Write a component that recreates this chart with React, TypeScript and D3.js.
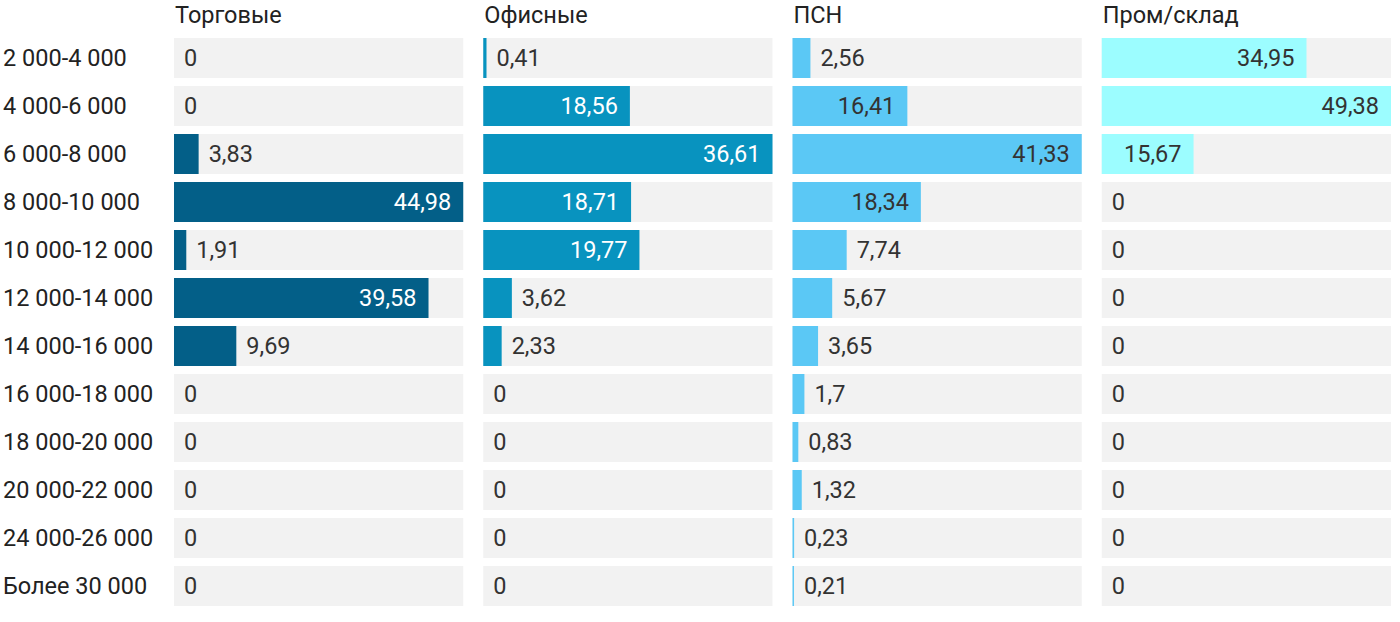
import { useEffect, useRef } from 'react';
import * as d3 from 'd3';

const categories = [
  '2 000-4 000', '4 000-6 000', '6 000-8 000', '8 000-10 000',
  '10 000-12 000', '12 000-14 000', '14 000-16 000', '16 000-18 000',
  '18 000-20 000', '20 000-22 000', '24 000-26 000', 'Более 30 000',
];

const seriesNames = ['Торговые', 'Офисные', 'ПСН', 'Пром/склад'];
const seriesColors = ['#035f88', '#0893bf', '#5bc8f5', '#9cfdff'];
const insideTextColors = ['#ffffff', '#ffffff', '#333333', '#333333'];

const trade = [0, 0, 3.83, 44.98, 1.91, 39.58, 9.69, 0, 0, 0, 0, 0];
const office = [0.41, 18.56, 36.61, 18.71, 19.77, 3.62, 2.33, 0, 0, 0, 0, 0];
const psn = [2.56, 16.41, 41.33, 18.34, 7.74, 5.67, 3.65, 1.7, 0.83, 1.32, 0.23, 0.21];
const industrial = [34.95, 49.38, 15.67, 0, 0, 0, 0, 0, 0, 0, 0, 0];

const seriesValues = [trade, office, psn, industrial];

const fmt = (v: number) => String(v).replace('.', ',');

export default function App() {
  const svgRef = useRef<SVGSVGElement>(null);

  useEffect(() => {
    if (!svgRef.current) return;
    const width = 1400;
    const height = 622;
    const svg = d3.select(svgRef.current);
    svg.selectAll('*').remove();
    svg.attr('width', width).attr('height', height);

    const font = 'Roboto, sans-serif';
    const fs = 23.5;

    // ряды
    const y = d3.scaleBand<string>()
      .domain(categories)
      .range([34, 610])
      .paddingInner(8 / 48)
      .paddingOuter(4 / 48);

    // подписи категорий
    svg.append('g')
      .selectAll('text')
      .data(categories)
      .join('text')
      .attr('x', 3)
      .attr('y', d => y(d)! + y.bandwidth() / 2)
      .attr('dy', '0.35em')
      .attr('font-family', font)
      .attr('font-size', fs)
      .attr('fill', '#222')
      .text(d => d);

    // панели
    const panel = d3.scaleBand<number>()
      .domain(d3.range(seriesNames.length))
      .range([174, 1391])
      .paddingInner(20 / 309);

    seriesNames.forEach((name, si) => {
      const values = seriesValues[si];
      const x0 = panel(si)!;
      const pw = panel.bandwidth();
      const x = d3.scaleLinear()
        .domain([0, d3.max(values)!])
        .range([0, pw]);

      const g = svg.append('g').attr('transform', `translate(${x0},0)`);

      g.append('text')
        .attr('x', 1)
        .attr('y', 23)
        .attr('font-family', font)
        .attr('font-size', fs)
        .attr('fill', '#222')
        .text(name);

      const rows = g.selectAll('g.row')
        .data(values.map((v, i) => ({ v, c: categories[i] })))
        .join('g')
        .attr('class', 'row')
        .attr('transform', d => `translate(0,${y(d.c)})`);

      rows.append('rect')
        .attr('width', pw)
        .attr('height', y.bandwidth())
        .attr('fill', '#f2f2f2');

      rows.append('rect')
        .attr('width', d => x(d.v))
        .attr('height', y.bandwidth())
        .attr('fill', seriesColors[si]);

      const max = d3.max(values)!;
      const inside = (v: number) => v / max > 0.28;
      rows.append('text')
        .attr('x', d => (inside(d.v) ? x(d.v) - 12 : x(d.v) + 10))
        .attr('y', y.bandwidth() / 2)
        .attr('dy', '0.35em')
        .attr('text-anchor', d => (inside(d.v) ? 'end' : 'start'))
        .attr('font-family', font)
        .attr('font-size', fs)
        .attr('fill', d => (inside(d.v) ? insideTextColors[si] : '#333'))
        .text(d => fmt(d.v));
    });
  }, []);

  return (
    <svg
      ref={svgRef}
      style={{ position: 'absolute', left: 0, top: 0, display: 'block', background: '#fff' }}
    />
  );
}
